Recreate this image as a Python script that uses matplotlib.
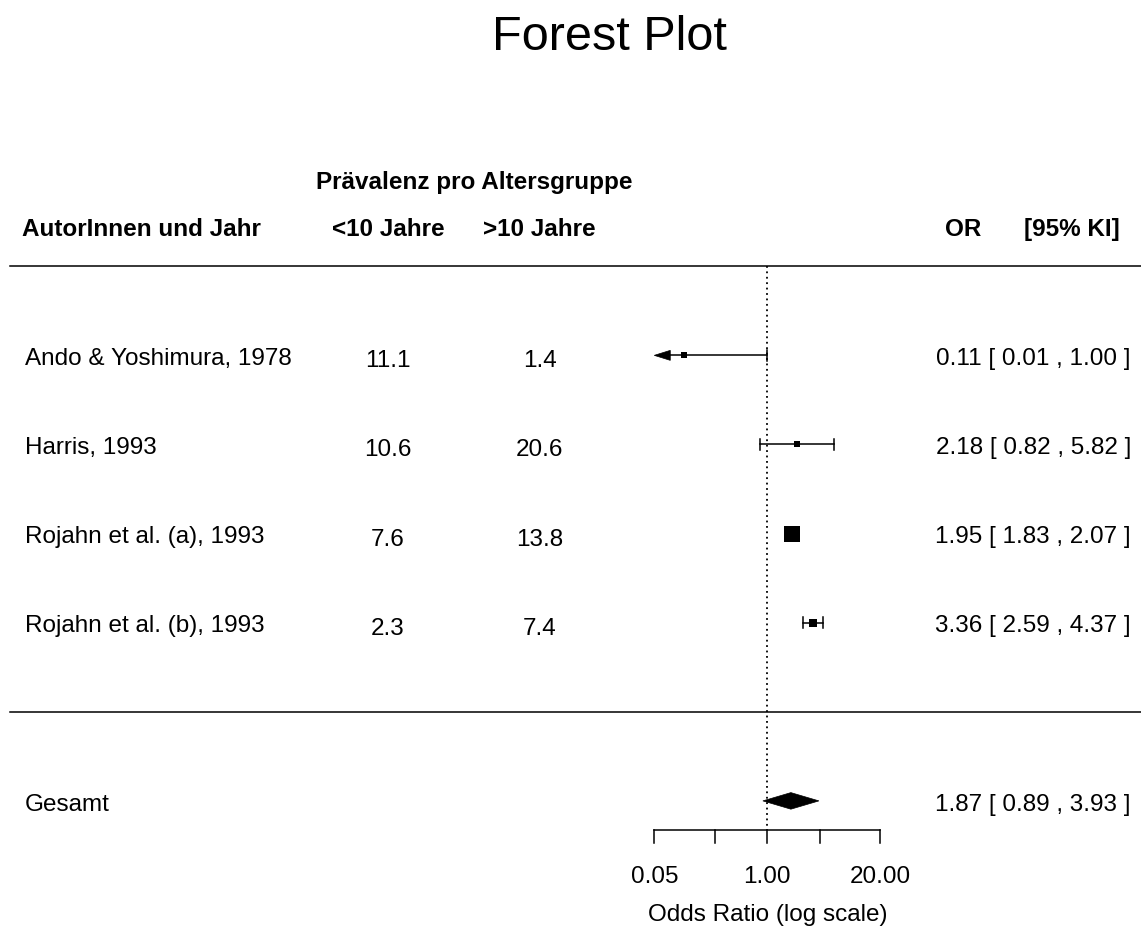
import numpy as np
import matplotlib.pyplot as plt
from matplotlib.patches import Polygon

plt.rcParams['font.family'] = ['Liberation Sans', 'DejaVu Sans']

# Studien, Prävalenzen und Odds Ratios
studien = ['Ando & Yoshimura, 1978', 'Harris, 1993',
           'Rojahn et al. (a), 1993', 'Rojahn et al. (b), 1993']
praev_unter10 = [11.1, 10.6, 7.6, 2.3]
praev_ueber10 = [1.4, 20.6, 13.8, 7.4]
or_wert = [0.11, 2.18, 1.95, 3.36]
ki_unten = [0.01, 0.82, 1.83, 2.59]
ki_oben = [1.00, 5.82, 2.07, 4.37]

# gepoolter Schaetzer
gesamt_or = 1.87
gesamt_unten = 0.89
gesamt_oben = 3.93

achse_werte = [0.05, 0.25, 1, 4, 20]
achse_labels = ['0.05', '', '1.00', '', '20.00']

# Punktgroessen (Gewichte)
punkt_groesse = [4.8, 4.8, 12.0, 5.9]

k = len(studien)
zeilen = np.arange(k, 0, -1)
alim = np.log(achse_werte[0]), np.log(achse_werte[-1])

fig = plt.figure(figsize=(11.41, 9.26), dpi=100)
ax = fig.add_axes([0, 0, 1, 1])
ax.set_xlim(-20.34, 9.907)
ax.set_ylim(-2.404, 7.988)
ax.axis('off')

fs = 17.5
lw = 1.1
tr = ax.get_yaxis_transform()

# Titel und Kopfzeilen
ax.text(0.534, 7.427, 'Forest Plot', transform=tr, ha='center', va='baseline', fontsize=35)
ax.text(0.416, 5.865, 'Prävalenz pro Altersgruppe', transform=tr, ha='center',
        va='baseline', fontsize=fs, fontweight='bold')
ax.text(0.0193, 5.34, 'AutorInnen und Jahr', transform=tr, ha='left', va='baseline',
        fontsize=fs, fontweight='bold')
ax.text(0.340, 5.34, '<10 Jahre', transform=tr, ha='center', va='baseline',
        fontsize=fs, fontweight='bold')
ax.text(0.473, 5.34, '>10 Jahre', transform=tr, ha='center', va='baseline',
        fontsize=fs, fontweight='bold')
ax.text(0.844, 5.34, 'OR', transform=tr, ha='center', va='baseline',
        fontsize=fs, fontweight='bold')
ax.text(0.9816, 5.34, '[95% KI]', transform=tr, ha='right', va='baseline',
        fontsize=fs, fontweight='bold')

# Trennlinien
ax.plot([-20.08, 9.907], [k + 1, k + 1], color='black', lw=lw)
ax.plot([-20.08, 9.907], [0, 0], color='black', lw=lw)

# Referenzlinie bei OR = 1
ax.plot([0, 0], [k + 1, -1.328], color='black', lw=1.3, linestyle=(0, (1, 2)))

cap = 0.062
for i in range(k):
    y = zeilen[i]
    est = np.log(or_wert[i])
    lo = np.log(ki_unten[i])
    hi = np.log(ki_oben[i])
    lo_c = max(lo, alim[0])
    hi_c = min(hi, alim[1])

    if lo < alim[0]:
        spitze = 0.424
        ax.add_patch(Polygon([[lo_c, y], [lo_c + spitze, y + 0.056], [lo_c + spitze, y - 0.056]],
                             closed=True, facecolor='black', edgecolor='black', lw=0.5))
        ax.plot([lo_c + spitze, hi_c], [y, y], color='black', lw=lw)
    else:
        ax.plot([lo_c, hi_c], [y, y], color='black', lw=lw)
        ax.plot([lo_c, lo_c], [y - cap, y + cap], color='black', lw=lw)
    ax.plot([hi_c, hi_c], [y - cap, y + cap], color='black', lw=lw)

    ax.plot(est, y, marker='s', markersize=punkt_groesse[i], color='black', mew=0)

    ax.text(0.0219, y - 0.11, studien[i], transform=tr, ha='left', va='baseline', fontsize=fs)
    ax.text(0.340, y - 0.135, f'{praev_unter10[i]:.1f}', transform=tr, ha='center',
            va='baseline', fontsize=fs)
    ax.text(0.473, y - 0.135, f'{praev_ueber10[i]:.1f}', transform=tr, ha='center',
            va='baseline', fontsize=fs)
    ax.text(0.9912, y - 0.11, f'{or_wert[i]:.2f} [ {ki_unten[i]:.2f} , {ki_oben[i]:.2f} ]',
            transform=tr, ha='right', va='baseline', fontsize=fs)

# Gesamteffekt als Raute
yg = -1
raute = [[np.log(gesamt_unten), yg], [np.log(gesamt_or), yg + 0.093],
         [np.log(gesamt_oben), yg], [np.log(gesamt_or), yg - 0.093]]
ax.add_patch(Polygon(raute, closed=True, facecolor='black', edgecolor='black', lw=0.5))
ax.text(0.0219, yg - 0.11, 'Gesamt', transform=tr, ha='left', va='baseline', fontsize=fs)
ax.text(0.9912, yg - 0.11, f'{gesamt_or:.2f} [ {gesamt_unten:.2f} , {gesamt_oben:.2f} ]',
        transform=tr, ha='right', va='baseline', fontsize=fs)

# x-Achse (log-Skala)
y_achse = -1.328
ticks = np.log(achse_werte)
ax.plot([ticks[0], ticks[-1]], [y_achse, y_achse], color='black', lw=lw)
for t, lab in zip(ticks, achse_labels):
    ax.plot([t, t], [y_achse, y_achse - 0.146], color='black', lw=lw)
    if lab:
        ax.text(t, -1.922, lab, ha='center', va='baseline', fontsize=fs)
ax.text(0, -2.349, 'Odds Ratio (log scale)', ha='center', va='baseline', fontsize=fs)

fig.savefig('out.png', dpi=100)
